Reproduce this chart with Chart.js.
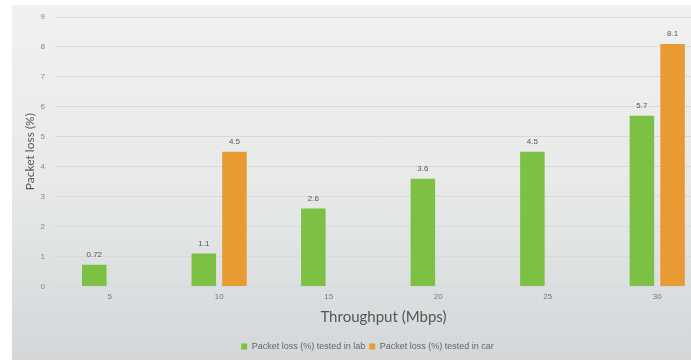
<!DOCTYPE html>
<html lang="en">
<head>
    <meta charset="UTF-8">
    <title>Packet loss</title>
    <script src="https://cdn.jsdelivr.net/npm/chart.js"></script>
    <style>
        html, body { margin: 0; padding: 0; background: #ffffff; overflow: hidden; }
        #wrap { position: absolute; left: 0; top: 0; width: 691px; height: 361px; overflow: hidden; }
    </style>
</head>
<body>
    <div id="wrap">
        <canvas id="myChart" width="712" height="361"></canvas>
    </div>
    <script>
        var throughput = ['5', '10', '15', '20', '25', '30'];
        var lossLab = [0.72, 1.1, 2.6, 3.6, 4.5, 5.7];
        var lossCar = [null, 4.5, null, null, null, 8.1];
        var lossLabText = ['0.72', '1.1', '2.6', '3.6', '4.5', '5.7'];
        var lossCarText = ['', '4.5', '', '', '', '8.1'];

        // gray slide background with the white border of the photo
        var bgPlugin = {
            id: 'bg',
            beforeDraw: function(chart) {
                var c = chart.ctx;
                c.save();
                c.fillStyle = '#ffffff';
                c.fillRect(0, 0, chart.width, chart.height);
                var g = c.createLinearGradient(0, 5, 0, 360);
                g.addColorStop(0, '#f0f1f1');
                g.addColorStop(0.5, '#e8eaea');
                g.addColorStop(1, '#d3d7d9');
                c.fillStyle = g;
                c.fillRect(12, 5, chart.width - 12, 355);
                c.restore();
            }
        };

        // value labels above the bars
        var labelPlugin = {
            id: 'valueLabels',
            afterDatasetsDraw: function(chart) {
                var c = chart.ctx;
                var texts = [lossLabText, lossCarText];
                c.save();
                c.font = '8px "Liberation Sans"';
                c.fillStyle = '#555555';
                c.textAlign = 'center';
                c.textBaseline = 'bottom';
                chart.data.datasets.forEach(function(ds, di) {
                    var meta = chart.getDatasetMeta(di);
                    meta.data.forEach(function(bar, i) {
                        if (ds.data[i] === null) return;
                        c.fillText(texts[di][i], bar.x, bar.y - 6);
                    });
                });
                c.restore();
            }
        };

        new Chart(document.getElementById('myChart'), {
            type: 'bar',
            data: {
                labels: throughput,
                datasets: [{
                    label: 'Packet loss (%) tested in lab',
                    data: lossLab,
                    backgroundColor: '#7cc143',
                    categoryPercentage: 0.56,
                    barPercentage: 0.8
                }, {
                    label: 'Packet loss (%) tested in car',
                    data: lossCar,
                    backgroundColor: '#e89a33',
                    categoryPercentage: 0.56,
                    barPercentage: 0.8
                }]
            },
            options: {
                responsive: false,
                animation: false,
                layout: { padding: { left: 23, right: 0, top: 17, bottom: 0 } },
                plugins: {
                    tooltip: { enabled: false },
                    legend: {
                        position: 'bottom',
                        labels: {
                            boxWidth: 6,
                            boxHeight: 6,
                            padding: 4,
                            color: '#666666',
                            font: { family: 'Liberation Sans', size: 9 }
                        }
                    }
                },
                scales: {
                    x: {
                        grid: { display: false, drawTicks: false },
                        border: { display: false },
                        ticks: { color: '#777777', font: { family: 'Liberation Sans', size: 8 }, padding: 6 },
                        title: {
                            display: true,
                            text: 'Throughput (Mbps)',
                            color: '#555555',
                            font: { family: 'Lato', size: 15 },
                            padding: { top: 0, bottom: 12 }
                        }
                    },
                    y: {
                        min: 0,
                        max: 9,
                        ticks: { stepSize: 1, color: '#888888', font: { family: 'Liberation Sans', size: 8 }, padding: 10 },
                        grid: { color: '#d7d9da', drawTicks: false },
                        border: { display: false },
                        title: {
                            display: true,
                            text: 'Packet loss (%)',
                            color: '#555555',
                            font: { family: 'Lato', size: 12 },
                            padding: { top: 0, bottom: -7 }
                        }
                    }
                }
            },
            plugins: [bgPlugin, labelPlugin]
        });
    </script>
</body>
</html>
